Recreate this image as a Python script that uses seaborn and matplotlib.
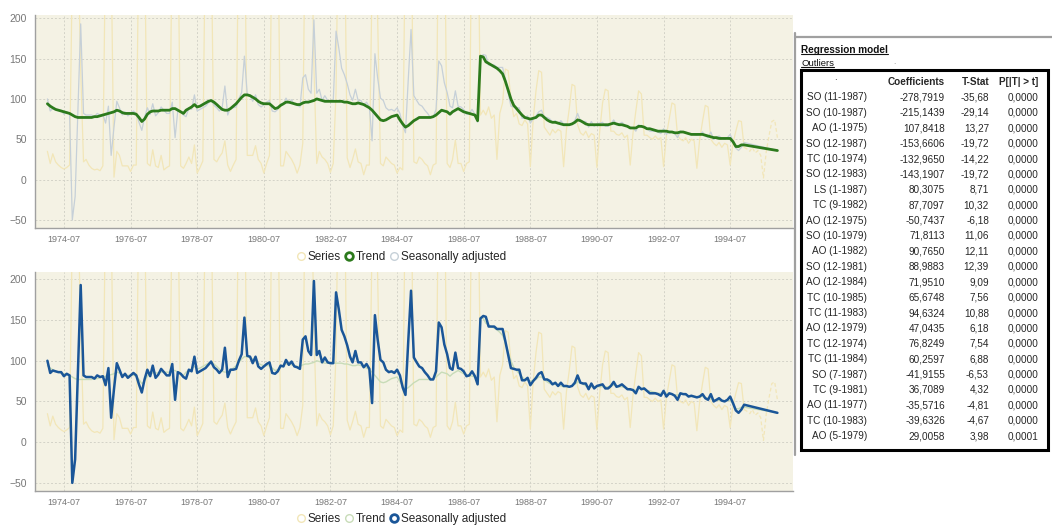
import matplotlib
matplotlib.use("Agg")
import matplotlib.pyplot as plt
import matplotlib.dates as mdates
from matplotlib.lines import Line2D
from matplotlib.patches import Rectangle
import seaborn as sns
import numpy as np
import pandas as pd

# monthly data, Jan 1974 - Dec 1995
months = pd.date_range("1974-01-01", periods=264, freq="MS")

series = [
    35, 20, 32, 22, 18, 15, 13, 15, 18, 260, 330, 300,      # 1974
    135, 22, 25, 18, 14, 12, 13, 11, 17, 300, 350, 280,     # 1975
    3, 35, 30, 17, 17, 17, 10, 18, 18, 320, 360, 300,       # 1976
    20, 17, 37, 17, 15, 30, 12, 15, 17, 310, 370, 320,      # 1977
    17, 14, 20, 28, 20, 43, 8, 15, 23, 330, 380, 310,       # 1978
    25, 22, 28, 33, 48, 18, 10, 18, 25, 350, 390, 340,      # 1979
    30, 30, 30, 42, 25, 20, 8, 20, 30, 340, 380, 330,       # 1980
    17, 17, 35, 30, 25, 18, 8, 18, 45, 360, 400, 350,       # 1981
    140, 20, 35, 28, 25, 20, 9, 20, 110, 370, 390, 340,     # 1982
    27, 15, 25, 38, 22, 20, 6, 18, 18, 250, 380, 200,       # 1983
    20, 17, 28, 24, 20, 18, 8, 15, 12, 330, 390, 340,       # 1984
    22, 20, 28, 25, 20, 17, 6, 18, 20, 350, 400, 350,       # 1985
    20, 15, 25, 49, 20, 20, 10, 20, 22, 360, 410, 360,      # 1986
    80, 86, 80, 90, 76, 80, 25, 82, 95, 137, 135, 100,      # 1987
    78, 82, 69, 67, 74, 69, 16, 74, 110, 135, 133, 65,      # 1988
    60, 55, 62, 58, 62, 60, 16, 62, 88, 118, 116, 68,       # 1989
    58, 55, 60, 52, 57, 55, 15, 60, 95, 112, 110, 60,       # 1990
    60, 56, 55, 58, 52, 55, 18, 58, 85, 110, 106, 55,       # 1991
    55, 52, 50, 54, 50, 52, 16, 55, 75, 95, 93, 55,         # 1992
    50, 48, 52, 45, 50, 48, 14, 50, 72, 92, 90, 50,         # 1993
    45, 42, 46, 40, 45, 43, 18, 45, 60, 73, 72, 40,         # 1994
    38, 35, 40, 33, 36, 30, 2, 35, 55, 72, 74, 52,          # 1995 (forecast)
]

# trend and seasonally adjusted: Jan 1974 - Dec 1994, then last point Dec 1995
trend = [
    94, 91, 89, 87, 86, 85, 84, 83, 82, 80, 78, 77,
    77, 77, 77, 77, 77, 78, 78, 79, 80, 81, 82, 83,
    84, 86, 85, 83, 82, 82, 82, 82, 81, 77, 72, 75,
    81, 84, 85, 85, 85, 86, 86, 86, 86, 88, 88, 86,
    84, 82, 86, 88, 90, 93, 90, 91, 93, 95, 97, 98,
    96, 93, 90, 87, 86, 86, 88, 91, 94, 98, 102, 105,
    105, 104, 102, 100, 97, 95, 94, 94, 94, 91, 88, 89,
    92, 94, 96, 96, 95, 94, 93, 93, 95, 96, 96, 97,
    98, 100, 99, 98, 97, 97, 97, 97, 97, 97, 97, 96,
    96, 95, 94, 94, 95, 94, 93, 91, 89, 86, 82, 78,
    74, 73, 74, 76, 78, 79, 80, 74, 69, 65, 67, 70,
    73, 75, 77, 77, 77, 77, 77, 78, 80, 83, 86, 85,
    84, 81, 84, 86, 88, 86, 84, 83, 82, 81, 80, 73,
    153, 152, 146, 144, 142, 140, 138, 135, 131, 122, 111, 100,
    92, 88, 84, 80, 77, 76, 75, 76, 77, 80, 80, 77,
    74, 72, 71, 71, 70, 69, 68, 68, 68, 69, 71, 74,
    73, 71, 69, 68, 68, 68, 68, 68, 68, 68, 68, 69,
    70, 69, 68, 68, 67, 66, 64, 64, 64, 66, 66, 65,
    63, 63, 62, 61, 60, 60, 60, 60, 59, 59, 58, 58,
    59, 59, 58, 57, 56, 56, 56, 56, 56, 55, 54, 53,
    52, 52, 51, 51, 51, 51, 51, 47, 41, 41, 43, 43,
    36,
]

seas_adj = [
    100, 85, 88, 87, 86, 86, 81, 84, 82, -50, -21, 85,
    193, 82, 80, 80, 80, 78, 82, 80, 81, 70, 91, 30,
    65, 97, 89, 80, 84, 79, 82, 85, 82, 71, 61, 77,
    89, 81, 94, 79, 83, 90, 86, 82, 82, 96, 52, 86,
    84, 80, 78, 89, 87, 105, 85, 87, 89, 91, 95, 99,
    92, 89, 85, 89, 116, 80, 89, 89, 90, 100, 108, 153,
    106, 105, 97, 105, 93, 90, 93, 96, 98, 85, 84, 87,
    94, 93, 101, 95, 99, 93, 92, 90, 126, 130, 112, 107,
    198, 107, 112, 98, 104, 98, 97, 97, 184, 163, 138, 130,
    119, 105, 98, 112, 98, 98, 92, 96, 90, 48, 156, 126,
    101, 98, 89, 86, 87, 85, 89, 82, 67, 58, 125, 186,
    104, 98, 93, 91, 86, 82, 77, 77, 87, 147, 141, 120,
    108, 91, 89, 110, 91, 90, 87, 81, 82, 87, 81, 71,
    152, 155, 154, 142, 142, 142, 139, 139, 139, 124, 107, 91,
    90, 89, 89, 76, 76, 79, 70, 75, 79, 84, 86, 77,
    77, 75, 71, 73, 69, 73, 69, 69, 68, 69, 73, 82,
    73, 72, 72, 65, 72, 66, 69, 70, 71, 66, 66, 69,
    74, 68, 69, 71, 68, 65, 65, 64, 60, 68, 65, 66,
    63, 60, 60, 60, 59, 57, 63, 56, 60, 59, 57, 52,
    60, 59, 59, 56, 57, 56, 55, 56, 59, 54, 52, 59,
    50, 52, 54, 51, 50, 52, 56, 48, 39, 36, 40, 46,
    36,
]
adj_dates = list(months[:252]) + [months[-1]]

# outlier table
outlier_names = ["SO (11-1987)", "SO (10-1987)", "AO (1-1975)", "SO (12-1987)", "TC (10-1974)",
                 "SO (12-1983)", "LS (1-1987)", "TC (9-1982)", "AO (12-1975)", "SO (10-1979)",
                 "AO (1-1982)", "SO (12-1981)", "AO (12-1984)", "TC (10-1985)", "TC (11-1983)",
                 "AO (12-1979)", "TC (12-1974)", "TC (11-1984)", "SO (7-1987)", "TC (9-1981)",
                 "AO (11-1977)", "TC (10-1983)", "AO (5-1979)"]
coefficients = ["-278,7919", "-215,1439", "107,8418", "-153,6606", "-132,9650", "-143,1907",
                "80,3075", "87,7097", "-50,7437", "71,8113", "90,7650", "88,9883", "71,9510",
                "65,6748", "94,6324", "47,0435", "76,8249", "60,2597", "-41,9155", "36,7089",
                "-35,5716", "-39,6326", "29,0058"]
t_stats = ["-35,68", "-29,14", "13,27", "-19,72", "-14,22", "-19,72", "8,71", "10,32", "-6,18",
           "11,06", "12,11", "12,39", "9,09", "7,56", "10,88", "6,18", "7,54", "6,88", "-6,53",
           "4,32", "-4,81", "-4,67", "3,98"]
p_values = ["0,0000"] * 22 + ["0,0001"]

sns.set_theme(style="white")
plt.rcParams['font.family'] = ['Liberation Sans', 'DejaVu Sans']

W, H = 1052, 525
fig = plt.figure(figsize=(W / 100, H / 100), dpi=100)

def px(x, y):
    return x / W, 1 - y / H

bg = "#F4F2E4"
c_series = "#F2E6B8"
c_trend = "#2C7A1C"
c_trend_light = "#C8DCB8"
c_sa = "#1A5698"
c_sa_light = "#C6D0D8"

ax1 = fig.add_axes([35 / W, 1 - 228 / H, 758 / W, 213 / H])
ax2 = fig.add_axes([35 / W, 1 - 491 / H, 758 / W, 219 / H])

for ax, top in ((ax1, True), (ax2, False)):
    ax.set_facecolor(bg)
    sns.lineplot(x=months[:252], y=series[:252], ax=ax, color=c_series, lw=0.9)
    sns.lineplot(x=months[251:], y=series[251:], ax=ax, color=c_series, lw=0.9,
                 linestyle=(0, (3, 2)))
    if top:
        sns.lineplot(x=adj_dates, y=seas_adj, ax=ax, color=c_sa_light, lw=0.9)
        sns.lineplot(x=adj_dates, y=trend, ax=ax, color=c_trend, lw=2.0)
    else:
        sns.lineplot(x=adj_dates, y=trend, ax=ax, color=c_trend_light, lw=1.0)
        sns.lineplot(x=adj_dates, y=seas_adj, ax=ax, color=c_sa, lw=1.8)

    ax.set_xlim(pd.Timestamp("1973-08-18"), pd.Timestamp("1996-05-20"))
    ax.set_ylim(-60, 204 if top else 209)
    ax.set_yticks([-50, 0, 50, 100, 150, 200])
    ax.set_xticks(pd.date_range("1974-07-01", "1994-07-01", freq="24MS"))
    ax.xaxis.set_major_formatter(mdates.DateFormatter("%Y-%m"))
    ax.set_xlabel("")
    ax.set_ylabel("")
    ax.grid(True, color="#D3D3C8", lw=0.7, linestyle=(0, (2, 2)))
    ax.tick_params(axis="x", labelsize=6.5, labelcolor="#777777", length=2,
                   color="#999999", pad=3)
    ax.tick_params(axis="y", labelsize=7.5, labelcolor="#777777", length=2,
                   color="#999999", pad=4)
    for s in ("top", "right"):
        ax.spines[s].set_visible(False)
    for s in ("left", "bottom"):
        ax.spines[s].set_color("#A0A0A0")
        ax.spines[s].set_linewidth(1.0)

    handles = [
        Line2D([], [], marker="o", ls="none", mfc="none", mec=c_series, mew=1.0, ms=5.5),
        Line2D([], [], marker="o", ls="none", mfc="none",
               mec=c_trend if top else c_trend_light, mew=2.0 if top else 1.0, ms=5.5),
        Line2D([], [], marker="o", ls="none", mfc="none",
               mec=c_sa_light if top else c_sa, mew=1.0 if top else 2.0, ms=5.5),
    ]
    ax.legend(handles, ["Series", "Trend", "Seasonally adjusted"], ncol=3, frameon=False,
              loc="center", bbox_to_anchor=(0.483, -0.136 if top else -0.128),
              fontsize=8.5, handlelength=0.8, handletextpad=0.15, columnspacing=0.3)

# side panel with the regression model
fig.add_artist(Line2D([px(795, 0)[0]] * 2, [px(0, 33)[1], px(0, 455)[1]],
                      transform=fig.transFigure, color="#A0A0A0", lw=1.6))
fig.add_artist(Line2D([px(795, 0)[0], 1.0], [px(0, 37)[1]] * 2,
                      transform=fig.transFigure, color="#A0A0A0", lw=1.6))

t_title = fig.text(*px(801, 50), "Regression model", fontsize=7.2, fontweight="bold",
                   va="center", ha="left", color="#111111")
t_outl = fig.text(*px(801, 63), "Outliers", fontsize=6.8, va="center", ha="left",
                  color="#111111")
fig.text(*px(893, 63), ".", fontsize=6, va="center", ha="left", color="#888888")

fig.add_artist(Rectangle(px(801, 450), (1048 - 801) / W, (450 - 70) / H,
                         transform=fig.transFigure, fill=False, ec="black", lw=2.2))

hdr_y = 82
fig.text(*px(835, hdr_y - 5), ".", fontsize=7, ha="center", va="center")
fig.text(*px(945, hdr_y), "Coefficients", fontsize=7.2, fontweight="bold", ha="right", va="center")
fig.text(*px(989, hdr_y), "T-Stat", fontsize=7.2, fontweight="bold", ha="right", va="center")
fig.text(*px(1038, hdr_y), "P[|T| > t]", fontsize=7.2, fontweight="bold", ha="right", va="center")

row_h = 15.4
for i, name in enumerate(outlier_names):
    y = hdr_y + row_h * (i + 1)
    fig.text(*px(867, y), name, fontsize=7.2, ha="right", va="center")
    fig.text(*px(945, y), coefficients[i], fontsize=7.2, ha="right", va="center")
    fig.text(*px(989, y), t_stats[i], fontsize=7.2, ha="right", va="center")
    fig.text(*px(1038, y), p_values[i], fontsize=7.2, ha="right", va="center")

# underline the two headings
fig.canvas.draw()
rend = fig.canvas.get_renderer()
for t in (t_title, t_outl):
    bb = t.get_window_extent(rend).transformed(fig.transFigure.inverted())
    fig.add_artist(Line2D([bb.x0, bb.x1], [bb.y0 + 0.001] * 2, transform=fig.transFigure,
                          color="#111111", lw=0.8))

fig.savefig("out.png", dpi=100)
